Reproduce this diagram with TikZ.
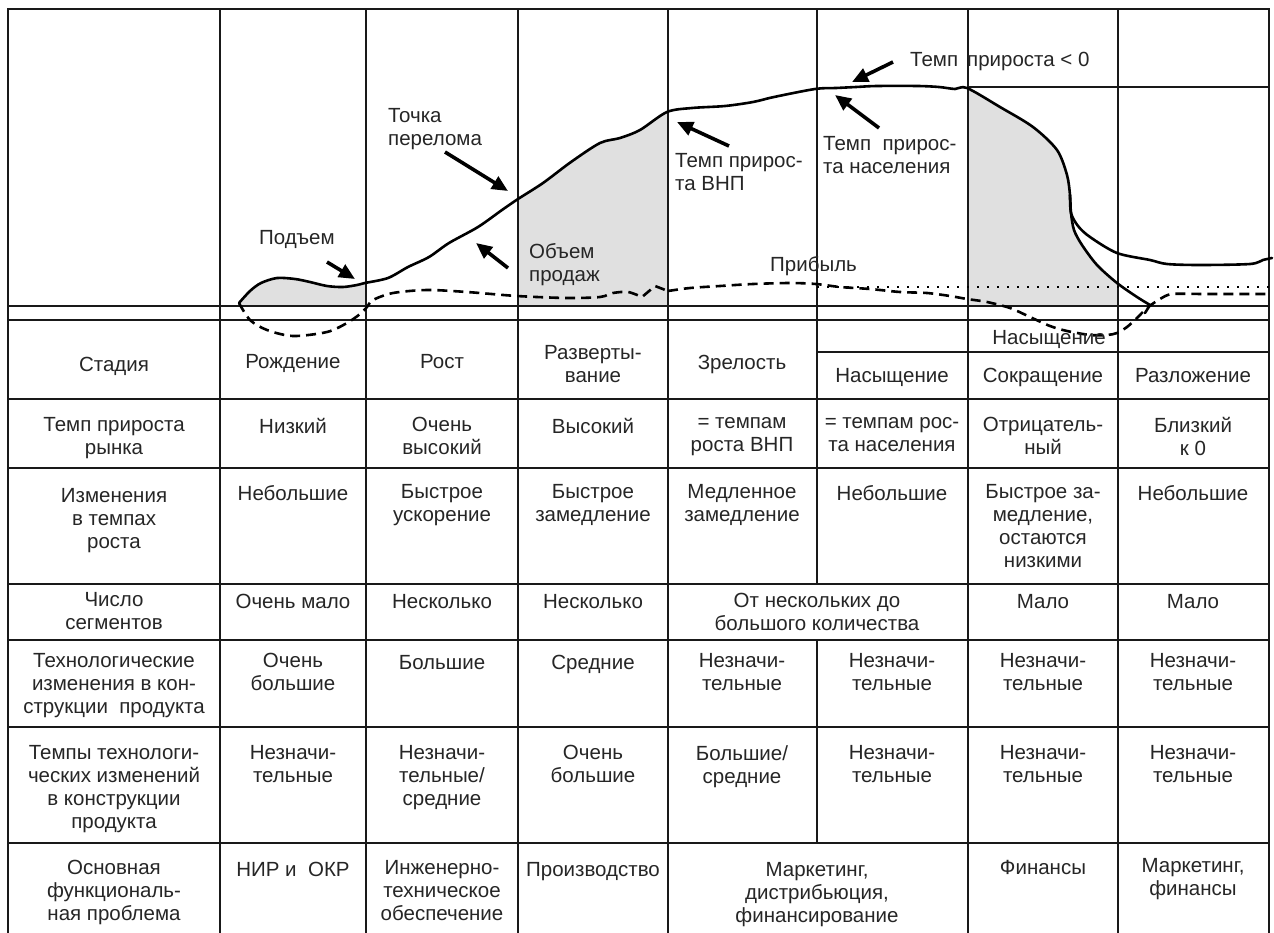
\documentclass[tikz,border=0pt]{standalone}
\usepackage{fontspec}
\setmainfont{Liberation Sans}
\usetikzlibrary{arrows.meta}
\newcommand\cellfnt{\fontsize{20.5}{23}\selectfont}
\begin{document}
\begin{tikzpicture}[x=1pt,y=-1pt,
 grid/.style={line width=2.9pt, line cap=rect, draw=black!90},
 sales/.style={line width=2.6pt, line join=round, line cap=round},
 profit/.style={line width=2.6pt, dash pattern=on 10pt off 6pt},
 dotl/.style={line width=2.4pt, dash pattern=on 2pt off 8pt},
 ptr/.style={line width=3.6pt, -{Triangle[length=16pt,width=14pt]}},
 cell/.style={anchor=north, inner sep=0pt, align=center, font=\cellfnt, text=black!85, execute at begin node=\rule{0pt}{16pt}},
 lbl/.style={anchor=north west, inner sep=0pt, align=left, font=\cellfnt, text=black!85, execute at begin node=\rule{0pt}{16pt}},
 shade/.style={fill=black!12}]
\useasboundingbox (0,0) rectangle (1274,932);
\fill[white] (0,0) rectangle (1274,932);

% gray areas under the sales curve
\begin{scope}
\clip (220,9) rectangle (366,306) (518,9) rectangle (668,306) (968,9) rectangle (1118,306);
\fill[shade] plot[smooth,tension=0.5] coordinates {(239,303) (250,291) (261,283) (277,278) (295,279) (310,282) (327,286) (343,287) (357,285) (365,283) (388,278) (408,267) (429,257) (449,243) (478,227) (502,210) (518,199) (543,183) (571,162) (600,143) (620,138) (640,130) (667,112) (692,108) (725,106) (753,102) (774,97) (815,89) (836,88) (856,87) (877,86) (918,86) (939,87) (955,89) (967,88) (1000,107) (1033,127) (1057,150) (1067,175) (1070,195) (1071,213) (1074,230) (1082,245) (1097,265) (1117,283) (1137,297) (1150,305)} -- (1150,306) -- (239,306) -- cycle;
\end{scope}

% grid
\draw[grid] (8,9) -- (1269,9);
\draw[grid] (8,9) -- (8,932);
\draw[grid] (1269,9) -- (1269,932);
\foreach \x in {220,366,518,668,968,1118} \draw[grid] (\x,9) -- (\x,932);
\draw[grid] (817,9) -- (817,584);
\draw[grid] (817,640) -- (817,843);
\foreach \y in {306,320,399,468,584,640,727,843} \draw[grid] (8,\y) -- (1269,\y);
\draw[grid] (817,352) -- (1269,352);
\draw[grid] (968,87) -- (1269,87);

% sales curve
\draw[sales] plot[smooth,tension=0.5] coordinates {(239,303) (250,291) (261,283) (277,278) (295,279) (310,282) (327,286) (343,287) (357,285) (365,283) (388,278) (408,267) (429,257) (449,243) (478,227) (502,210) (518,199) (543,183) (571,162) (600,143) (620,138) (640,130) (667,112) (692,108) (725,106) (753,102) (774,97) (815,89) (836,88) (856,87) (877,86) (918,86) (939,87) (955,89) (967,88) (1000,107) (1033,127) (1057,150) (1067,175) (1070,195) (1071,213) (1074,230) (1082,245) (1097,265) (1117,283) (1137,297) (1150,305)} -- (1145,313);
\draw[sales] plot[smooth,tension=0.5] coordinates {(1070,195) (1071,213) (1078,226) (1090,237) (1117,253) (1150,260) (1167,264) (1200,265) (1250,264) (1263,260) (1272,258)};

% profit curve
\draw[profit] plot[smooth,tension=0.5] coordinates {(239,303) (250,320) (267,330) (293,336) (327,332) (347,323) (360,314) (367,307) (373,300) (393,293) (427,290) (467,292) (517,296) (567,298) (600,297) (613,293) (628,292) (642,297)} -- (655,286) -- (668,291);
\draw[profit] plot[smooth,tension=0.5] coordinates {(668,291) (690,288) (720,286) (753,284) (790,283) (816,284) (840,287) (870,289) (900,292) (927,293) (950,296) (967,299) (987,302) (1010,308) (1030,317) (1050,326) (1067,331) (1090,335) (1107,335) (1117,333) (1127,327) (1137,318) (1147,308) (1160,299) (1172,294) (1200,294)} -- (1269,294);
\draw[dotl] (817,287) -- (1269,287);

% chart labels
\node[lbl] (lt) at (388,108) {Точка\\перелома};
\node[lbl] (lp) at (259,228) {Подъем};
\node[lbl] (lo) at (529,243) {Объем\\продаж};
\node[lbl] (lv) at (675,153) {Темп прирос-\\та ВНП};
\node[lbl] (ln) at (823,136) {Темп\ \ прирос-\\та населения};
\node[lbl] (lz) at (910,50) {Темп\hspace{9pt}прироста < 0};
\node[lbl] (lb) at (770,255) {Прибыль};

% arrows
\coordinate (a1s) at (327,262); \coordinate (a1e) at (355,279);
\coordinate (a2s) at (445,152); \coordinate (a2e) at (508,191);
\coordinate (a3s) at (508,268); \coordinate (a3e) at (476,243);
\coordinate (a4s) at (729,146); \coordinate (a4e) at (677,122);
\coordinate (a5s) at (879,128); \coordinate (a5e) at (835,95);
\coordinate (a6s) at (893,62);  \coordinate (a6e) at (852,82);
\draw[ptr] (a1s) -- (a1e);
\draw[ptr] (a2s) -- (a2e);
\draw[ptr] (a3s) -- (a3e);
\draw[ptr] (a4s) -- (a4e);
\draw[ptr] (a5s) -- (a5e);
\draw[ptr] (a6s) -- (a6e);

% stage row
\node[cell] (s0) at (114,355) {Стадия};
\node[cell] (s1) at (293,352) {Рождение};
\node[cell] (s2) at (442,352) {Рост};
\node[cell] (s3) at (593,345) {Разверты-\\вание};
\node[cell] (s4) at (742,353) {Зрелость};
\node[cell] (s5) at (892,366) {Насыщение};
\node[cell] (s6) at (1043,366) {Сокращение};
\node[cell] (s7) at (1193,366) {Разложение};
\node[cell] (su) at (1049,328) {Насыщение};

% row 2
\node[cell] (b0) at (114,417) {Темп прироста\\рынка};
\node[cell] (b1) at (293,417) {Низкий};
\node[cell] (b2) at (442,417) {Очень\\высокий};
\node[cell] (b3) at (593,417) {Высокий};
\node[cell] (b4) at (742,417) {= темпам\\роста ВНП};
\node[cell] (b5) at (892,417) {= темпам рос-\\та населения};
\node[cell] (b6) at (1043,417) {Отрицатель-\\ный};
\node[cell] (b7) at (1193,417) {Близкий\\к 0};

% row 3
\node[cell] (c0) at (114,488) {Изменения\\в темпах\\роста};
\node[cell] (c1) at (293,484) {Небольшие};
\node[cell] (c2) at (442,484) {Быстрое\\ускорение};
\node[cell] (c3) at (593,484) {Быстрое\\замедление};
\node[cell] (c4) at (742,484) {Медленное\\замедление};
\node[cell] (c5) at (892,484) {Небольшие};
\node[cell] (c6) at (1043,484) {Быстрое за-\\медление,\\остаются\\низкими};
\node[cell] (c7) at (1193,484) {Небольшие};

% row 4
\node[cell] (d0) at (114,592) {Число\\сегментов};
\node[cell] (d1) at (293,592) {Очень мало};
\node[cell] (d2) at (442,592) {Несколько};
\node[cell] (d3) at (593,592) {Несколько};
\node[cell] (d4) at (817,593) {От нескольких до\\большого количества};
\node[cell] (d6) at (1043,592) {Мало};
\node[cell] (d7) at (1193,592) {Мало};

% row 5
\node[cell] (e0) at (114,653) {Технологические\\изменения в кон-\\струкции\ \ продукта};
\node[cell] (e1) at (293,653) {Очень\\большие};
\node[cell] (e2) at (442,653) {Большие};
\node[cell] (e3) at (593,653) {Средние};
\node[cell] (e4) at (742,653) {Незначи-\\тельные};
\node[cell] (e5) at (892,653) {Незначи-\\тельные};
\node[cell] (e6) at (1043,653) {Незначи-\\тельные};
\node[cell] (e7) at (1193,653) {Незначи-\\тельные};

% row 6
\node[cell] (f0) at (114,745) {Темпы технологи-\\ческих изменений\\в конструкции\\продукта};
\node[cell] (f1) at (293,745) {Незначи-\\тельные};
\node[cell] (f2) at (442,745) {Незначи-\\тельные/\\средние};
\node[cell] (f3) at (593,745) {Очень\\большие};
\node[cell] (f4) at (742,745) {Большие/\\средние};
\node[cell] (f5) at (892,745) {Незначи-\\тельные};
\node[cell] (f6) at (1043,745) {Незначи-\\тельные};
\node[cell] (f7) at (1193,745) {Незначи-\\тельные};

% row 7
\node[cell] (g0) at (114,860) {Основная\\функциональ-\\ная проблема};
\node[cell] (g1) at (293,860) {НИР и\ \ ОКР};
\node[cell] (g2) at (442,860) {Инженерно-\\техническое\\обеспечение};
\node[cell] (g3) at (593,860) {Производство};
\node[cell] (g4) at (817,862) {Маркетинг,\\дистрибьюция,\\финансирование};
\node[cell] (g6) at (1043,858) {Финансы};
\node[cell] (g7) at (1193,858) {Маркетинг,\\финансы};
\end{tikzpicture}
\end{document}
